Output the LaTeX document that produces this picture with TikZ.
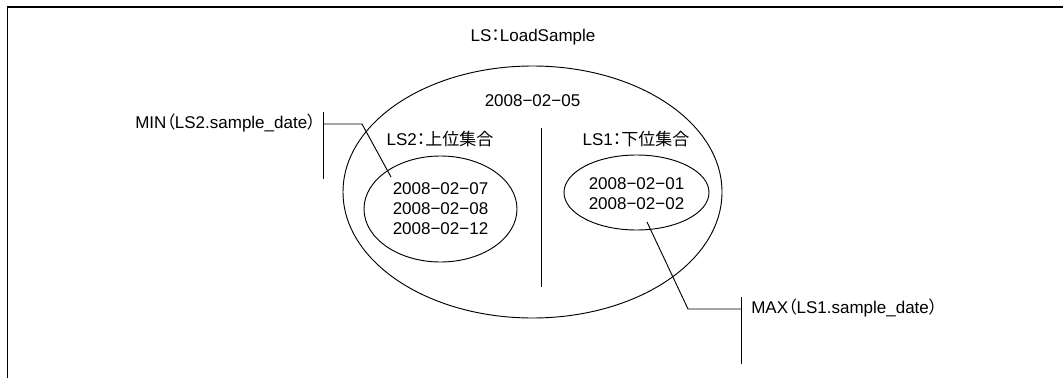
\documentclass[tikz,border=0pt]{standalone}
\usepackage{fontspec}
\setmainfont{Liberation Sans}
\newfontfamily\cjk[RawFeature=+palt]{Noto Sans CJK JP}
\usetikzlibrary{shapes.geometric}
\begin{document}
\begin{tikzpicture}[x=0.75pt,y=-0.75pt,
  lbl/.style={inner sep=0pt,font=\fontsize{12.75pt}{15pt}\selectfont},
  oval/.style={draw,ellipse,inner sep=0pt,line width=0.7pt},
  conn/.style={line width=0.7pt},
  frame/.style={line width=1.3pt}]
\useasboundingbox (0,0) rectangle (1063,378);
\coordinate (fTL) at (7.5,7);
\coordinate (fTR) at (1063,7);
\coordinate (fBL) at (7.5,378);
\draw[frame] (fBL) -- (fTL) -- (fTR);

\node[lbl] (title) at (533,37) {LS{\cjk ：}LoadSample};

\node[oval,minimum width=379*0.75pt,minimum height=252*0.75pt] (outer) at (532.5,192) {};
\node[oval,minimum width=153*0.75pt,minimum height=106*0.75pt] (ls2) at (440.5,209) {};
\node[oval,minimum width=145*0.75pt,minimum height=75*0.75pt] (ls1) at (636.5,192.5) {};

\coordinate (divT) at (541,128);
\coordinate (divB) at (541,287);
\draw[conn] (divT) -- (divB);

\node[lbl] (pivot) at (532.5,101) {2008−02−05};
\node[lbl] (ls2t) at (440,139) {LS2{\cjk ：上位集合}};
\node[lbl] (ls1t) at (636,139) {LS1{\cjk ：下位集合}};

\node[lbl] (d7) at (440.5,189) {2008−02−07};
\node[lbl] (d8) at (440.5,209) {2008−02−08};
\node[lbl] (d12) at (440.5,229) {2008−02−12};
\node[lbl] (d1) at (636.5,184) {2008−02−01};
\node[lbl] (d2) at (636.5,204) {2008−02−02};

% MIN annotation
\node[lbl,anchor=east] (minl) at (316,123) {MIN{\cjk （}LS2.sample\_date{\cjk ）}};
\coordinate (minT) at (323,112);
\coordinate (minB) at (323,179);
\coordinate (minJ) at (323,124);
\coordinate (minE) at (362,124);
\coordinate (minP) at (391,177);
\draw[conn] (minT) -- (minB);
\draw[conn] (minJ) -- (minE) -- (minP);

% MAX annotation
\node[lbl,anchor=west] (maxl) at (751,308) {MAX{\cjk （}LS1.sample\_date{\cjk ）}};
\coordinate (maxT) at (741,297);
\coordinate (maxB) at (741,364);
\coordinate (maxJ) at (741,309);
\coordinate (maxE) at (688,309);
\coordinate (maxP) at (647,222);
\draw[conn] (maxT) -- (maxB);
\draw[conn] (maxJ) -- (maxE) -- (maxP);
\end{tikzpicture}
\end{document}
